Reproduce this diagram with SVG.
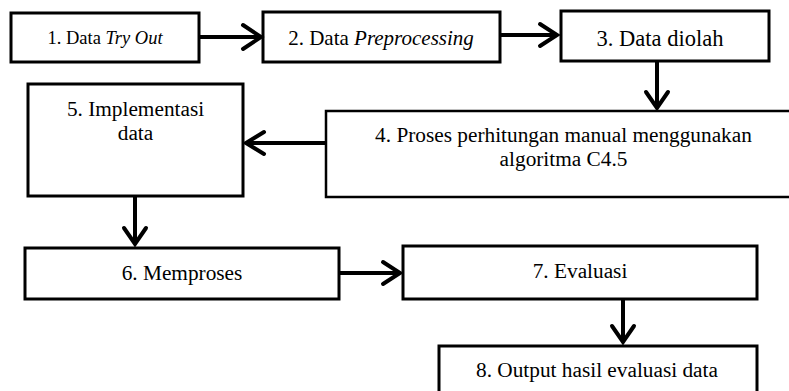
<svg xmlns="http://www.w3.org/2000/svg" width="789" height="391" viewBox="0 0 789 391">
<style>
.box{fill:#fff;stroke:#000;stroke-width:3}
.t{font-family:"Liberation Serif","Times New Roman",serif;font-size:21.3px;fill:#000;text-anchor:middle}
.i{font-style:italic}
.c line{stroke:#000;stroke-width:4}
.c polyline{fill:none;stroke:#000;stroke-width:4;stroke-linecap:round;stroke-linejoin:miter}
</style>
<rect width="789" height="391" fill="#fff"/>
<g id="n1"><rect class="box" x="11" y="13" width="188" height="49"/><text class="t" x="105" y="44" style="font-size:18.5px">1. Data <tspan class="i">Try Out</tspan></text></g>
<g id="n2"><rect class="box" x="263" y="12" width="237" height="50"/><text class="t" x="381" y="45" style="font-size:21px">2. Data <tspan class="i">Preprocessing</tspan></text></g>
<g id="n3"><rect class="box" x="561" y="11" width="208" height="50"/><text class="t" x="660" y="46" style="font-size:22.5px">3. Data diolah</text></g>
<g id="n4"><rect class="box" x="326" y="111" width="480" height="86" style="stroke-width:2.5"/><text class="t" x="563.5" y="142">4. Proses perhitungan manual menggunakan</text><text class="t" x="563.5" y="166">algoritma C4.5</text></g>
<g id="n5"><rect class="box" x="28" y="84" width="215" height="112"/><text class="t" x="135.5" y="116">5. Implementasi</text><text class="t" x="135.5" y="140">data</text></g>
<g id="n6"><rect class="box" x="25" y="248" width="314" height="51"/><text class="t" x="182" y="280">6. Memproses</text></g>
<g id="n7"><rect class="box" x="403" y="246" width="354" height="53"/><text class="t" x="580" y="278">7. Evaluasi</text></g>
<g id="n8"><rect class="box" x="439" y="346" width="318" height="60"/><text class="t" x="597" y="377">8. Output hasil evaluasi data</text></g>
<g id="connectors" class="c">
<line x1="199" y1="37" x2="259" y2="37"/><polyline points="243,25 261,37 243,49"/>
<line x1="500" y1="35" x2="556" y2="35"/><polyline points="540,24 557,35 540,46"/>
<line x1="657" y1="61" x2="657" y2="107"/><polyline points="646,92 657,108 668,92"/>
<line x1="326" y1="143" x2="248" y2="143"/><polyline points="264,132 246,143 264,154"/>
<line x1="135" y1="196" x2="135" y2="243"/><polyline points="124,228 135,244 146,228"/>
<line x1="339" y1="273" x2="398" y2="273"/><polyline points="383,262 400,273 383,284"/>
<line x1="623" y1="299" x2="623" y2="341"/><polyline points="612,326 623,342 634,326"/>
</g>
</svg>
